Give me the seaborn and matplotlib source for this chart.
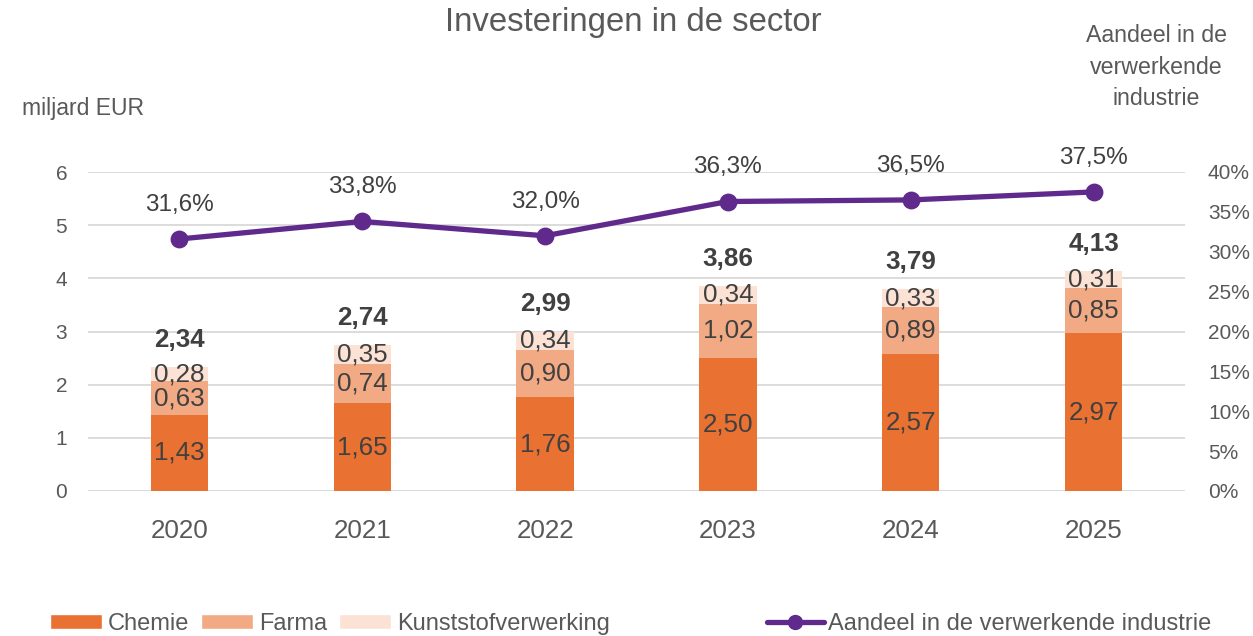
import matplotlib
matplotlib.use("Agg")
import matplotlib.pyplot as plt
import seaborn as sns
import pandas as pd
import numpy as np
from matplotlib.patches import Patch
from matplotlib.lines import Line2D

years = ["2020", "2021", "2022", "2023", "2024", "2025"]
chemie = [1.43, 1.65, 1.76, 2.50, 2.57, 2.97]
farma = [0.63, 0.74, 0.90, 1.02, 0.89, 0.85]
kunststof = [0.28, 0.35, 0.34, 0.34, 0.33, 0.31]
totals = [2.34, 2.74, 2.99, 3.86, 3.79, 4.13]
share = [31.6, 33.8, 32.0, 36.3, 36.5, 37.5]

C_CHEM = "#E97132"
C_FARMA = "#F2AA84"
C_KUNST = "#FBE2D5"
C_LINE = "#5F2A8C"
C_TEXT = "#595959"
C_LABEL = "#404040"
C_GRID = "#D9D9D9"

sns.set_theme(style="white")
plt.rcParams["font.family"] = ["Liberation Sans", "DejaVu Sans"]

def nl(v, d=2):
    return f"{v:.{d}f}".replace(".", ",")

df = pd.DataFrame({"year": years, "chemie": chemie, "farma": farma, "kunststof": kunststof})
df["lvl2"] = df["chemie"] + df["farma"]
df["lvl3"] = df["lvl2"] + df["kunststof"]

fig = plt.figure(figsize=(12.53, 6.36), dpi=100)
ax = fig.add_axes([88 / 1253, 1 - 491 / 636, (1185 - 88) / 1253, (491 - 172) / 636])

bw = 0.314
sns.barplot(data=df, x="year", y="lvl3", order=years, color=C_KUNST, width=bw,
            saturation=1, ax=ax, zorder=2, linewidth=0)
sns.barplot(data=df, x="year", y="lvl2", order=years, color=C_FARMA, width=bw,
            saturation=1, ax=ax, zorder=3, linewidth=0)
sns.barplot(data=df, x="year", y="chemie", order=years, color=C_CHEM, width=bw,
            saturation=1, ax=ax, zorder=4, linewidth=0)

ax.set_xlim(-0.5, len(years) - 0.5)
ax.set_ylim(0, 6)
ax.set_yticks(range(0, 7))
ax.set_xlabel("")
ax.set_ylabel("")
ax.grid(axis="y", color=C_GRID, linewidth=1.3, zorder=0)
ax.set_axisbelow(True)
for s in ax.spines.values():
    s.set_visible(False)
ax.tick_params(axis="x", length=0, pad=20, labelsize=18.7, labelcolor=C_TEXT)
ax.tick_params(axis="y", length=0, pad=15, labelsize=15, labelcolor=C_TEXT)

# segment labels
for i in range(len(years)):
    segs = [(0, chemie[i]), (chemie[i], farma[i]), (chemie[i] + farma[i], kunststof[i])]
    for b, h in segs:
        ax.text(i, b + h / 2, nl(h), ha="center", va="center", fontsize=18.7,
                color=C_LABEL, zorder=6)
    ax.annotate(nl(totals[i]), (i, df["lvl3"][i]), xytext=(0, 19.5),
                textcoords="offset points", ha="center", va="center",
                fontsize=18.7, fontweight="bold", color=C_LABEL, zorder=6)

# line on secondary axis
ax2 = ax.twinx()
sdf = pd.DataFrame({"year": years, "share": share})
sns.pointplot(data=sdf, x="year", y="share", order=years, color=C_LINE, ax=ax2,
              markers="o", markersize=10, linewidth=3.8, zorder=7)
ax2.set_xlim(-0.5, len(years) - 0.5)
ax2.set_ylim(0, 40)
ax2.set_yticks(range(0, 41, 5))
ax2.set_yticklabels([f"{v}%" for v in range(0, 41, 5)])
ax2.set_ylabel("")
ax2.set_xlabel("")
ax2.grid(False)
for s in ax2.spines.values():
    s.set_visible(False)
ax2.tick_params(axis="y", length=0, pad=16.5, labelsize=15, labelcolor=C_TEXT)
for i, v in enumerate(share):
    ax2.annotate(nl(v, 1) + "%", (i, v), xytext=(0, 24.5), textcoords="offset points",
                 ha="center", va="center", fontsize=17.5, color=C_LABEL,
                 annotation_clip=False)

# titles
fig.text(633 / 1253, 1 - 22 / 636, "Investeringen in de sector", ha="center", va="center",
         fontsize=23.7, color=C_TEXT)
fig.text(22 / 1253, 1 - 108 / 636, "miljard EUR", ha="left", va="center",
         fontsize=16.6, color=C_TEXT)
fig.text(1156 / 1253, 1 - 67 / 636, "Aandeel in de\nverwerkende\nindustrie", ha="center",
         va="center", fontsize=16.7, color=C_TEXT, linespacing=1.45)

# legends
h_bars = [Patch(facecolor=C_CHEM, label="Chemie"),
          Patch(facecolor=C_FARMA, label="Farma"),
          Patch(facecolor=C_KUNST, label="Kunststofverwerking")]
leg1 = fig.legend(handles=h_bars, loc="center left", bbox_to_anchor=(50 / 1253, 1 - 624 / 636),
                  ncol=3, frameon=False, fontsize=17, handlelength=2.2, handleheight=0.6,
                  handletextpad=0.25, columnspacing=0.5, borderpad=0, borderaxespad=0,
                  labelcolor=C_TEXT)
h_line = [Line2D([0], [0], color=C_LINE, lw=3.8, marker="o", markersize=10,
                 label="Aandeel in de verwerkende industrie")]
leg2 = fig.legend(handles=h_line, loc="center left", bbox_to_anchor=(767 / 1253, 1 - 624 / 636),
                  frameon=False, fontsize=17, handlelength=2.4, handletextpad=0.2,
                  borderpad=0, borderaxespad=0, labelcolor=C_TEXT)

fig.savefig("out.png", dpi=100)
